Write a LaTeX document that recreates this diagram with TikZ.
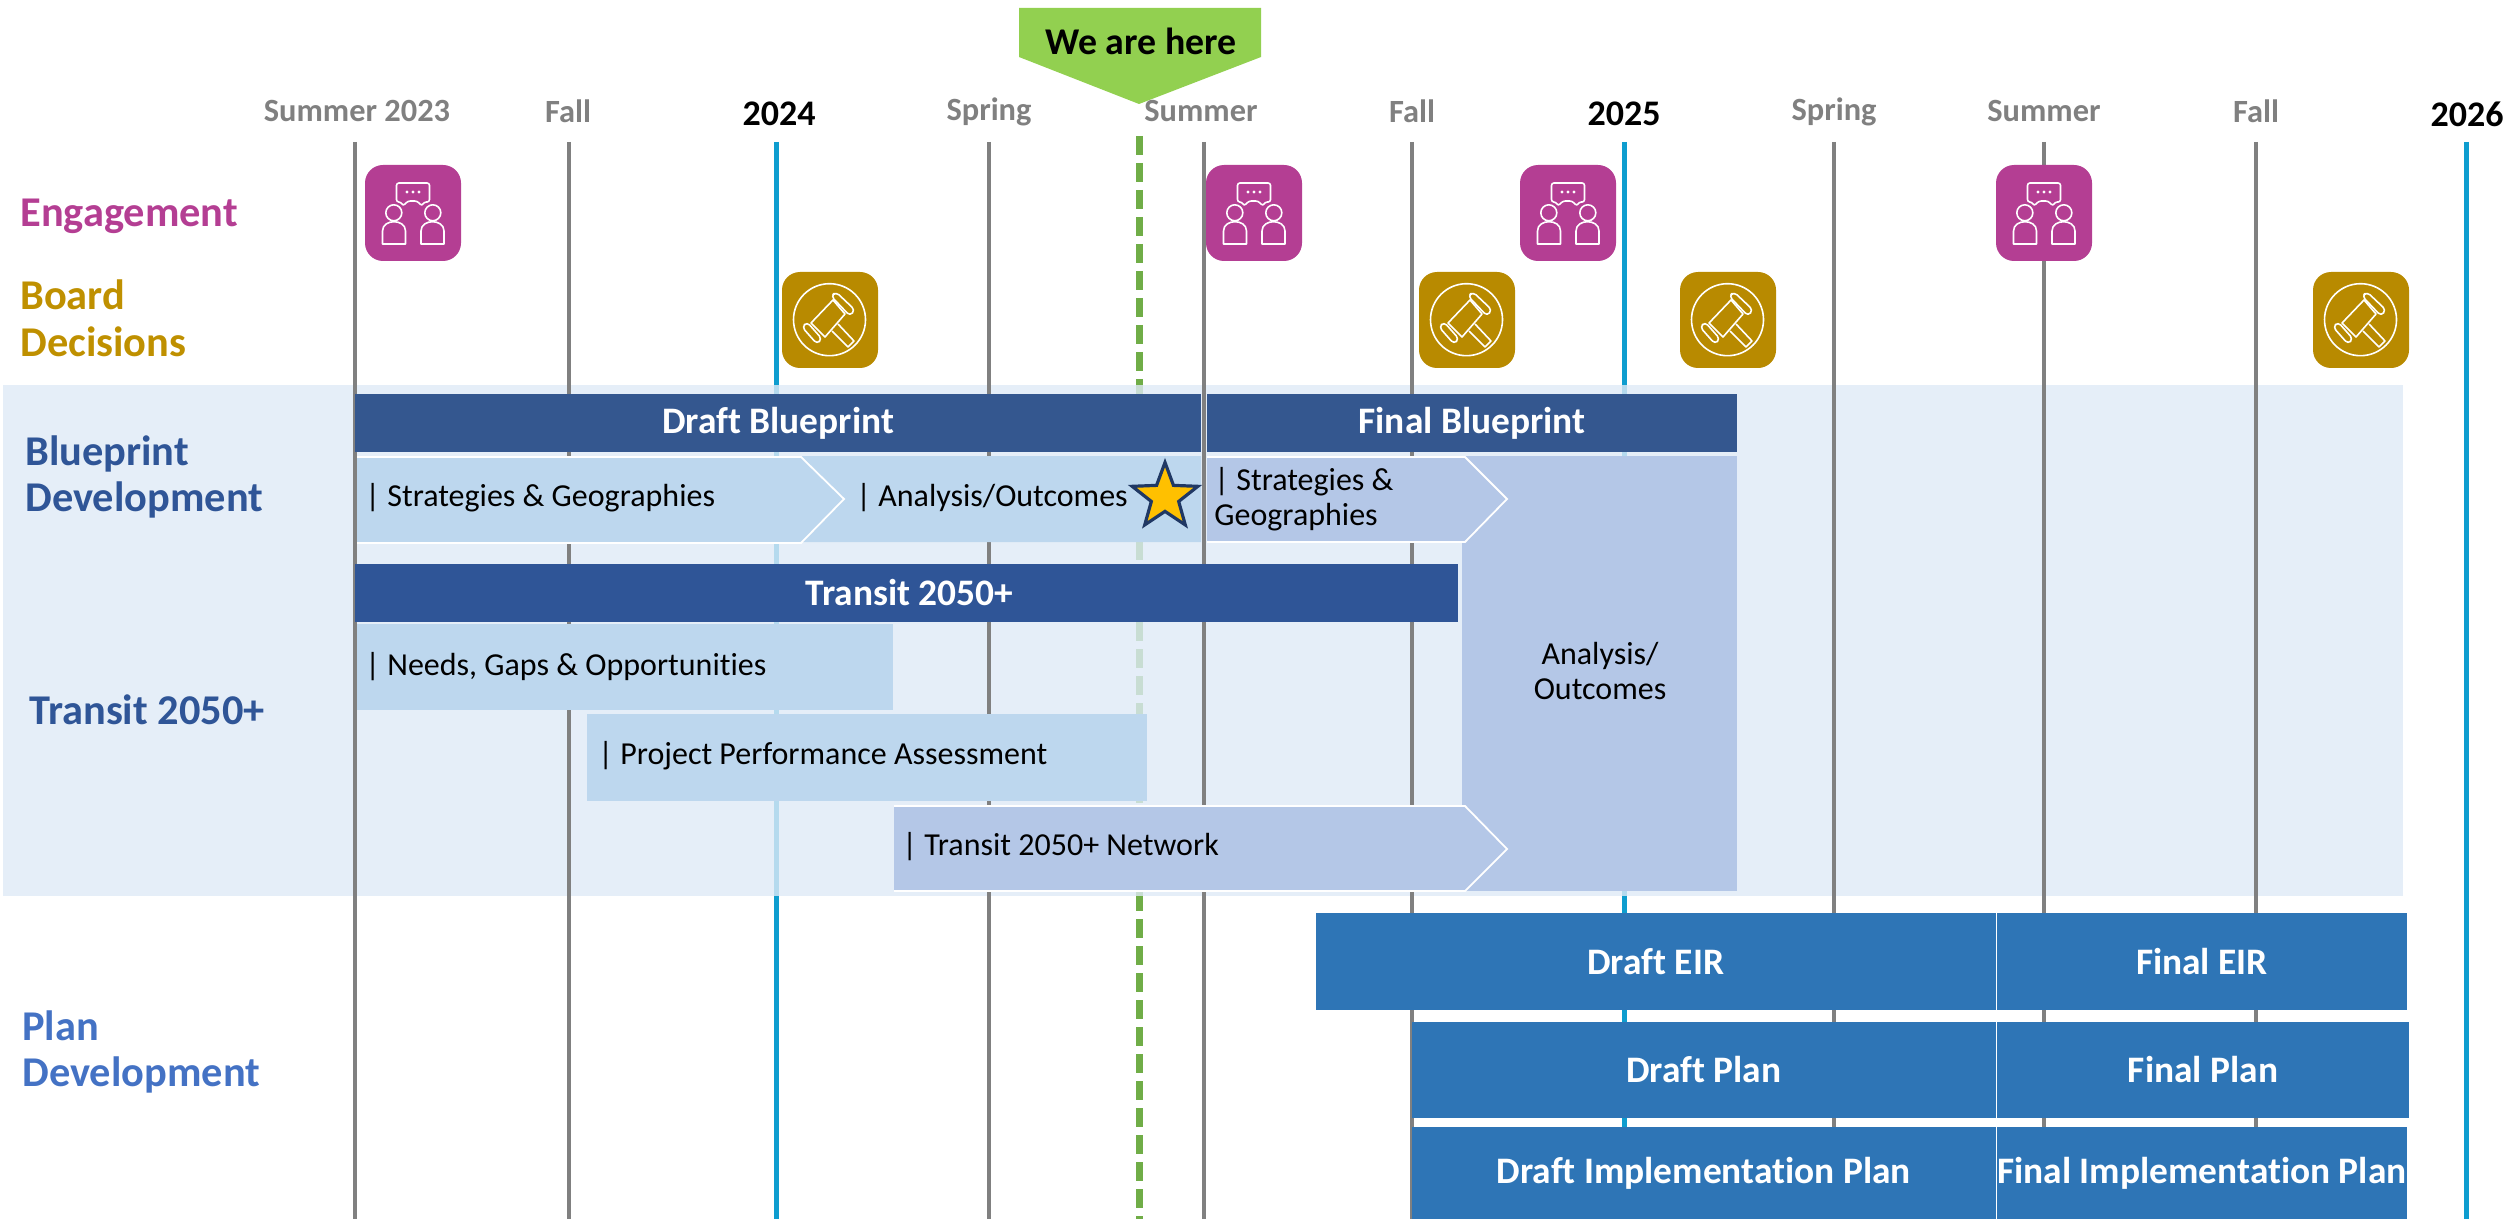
\documentclass[tikz,border=0pt]{standalone}
\usepackage{fontspec}
\setmainfont[Ligatures=CommonOff]{Carlito}
\usetikzlibrary{shapes.geometric}
\definecolor{gridgray}{HTML}{808080}
\definecolor{yearblue}{HTML}{0E9DCF}
\definecolor{heregreen}{HTML}{70AD47}
\definecolor{herefill}{HTML}{92D050}
\definecolor{bandfill}{HTML}{DFEAF6}
\definecolor{navy}{HTML}{34578F}
\definecolor{navyb}{HTML}{2F5597}
\definecolor{planblue}{HTML}{2E75B6}
\definecolor{lightbar}{HTML}{BDD7EE}
\definecolor{midbar}{HTML}{B4C7E7}
\definecolor{pinkicon}{HTML}{B43E93}
\definecolor{goldicon}{HTML}{B88A00}
\definecolor{boardtext}{HTML}{BF9000}
\definecolor{planlabel}{HTML}{4472C4}
\definecolor{starborder}{HTML}{203864}
\definecolor{starfill}{HTML}{FFC000}
\tikzset{
  x=0.5pt,y=-0.5pt,
  gridline/.style={draw=gridgray,line width=1.6pt},
  yearline/.style={draw=yearblue,line width=2.5pt},
  season/.style={text=gridgray,font=\fontsize{16.2}{19}\selectfont\bfseries,anchor=center},
  yearlabel/.style={text=black,font=\fontsize{18}{21}\selectfont\bfseries,anchor=center},
  side/.style={font=\fontsize{21.2}{23.3}\selectfont\bfseries,anchor=west,align=left,inner sep=0pt},
  barlabel/.style={text=white,font=\fontsize{18.7}{21}\selectfont\bfseries,align=center,inner sep=0pt},
  bodylabel/.style={text=black,font=\fontsize{16}{17.6}\selectfont,align=left,inner sep=0pt},
  chev/.style={draw=white,line width=0.9pt,line join=miter},
  iconline/.style={draw=white,line width=0.8pt,line join=round},
  peopleicon/.pic={
    \fill[pinkicon,rounded corners=9pt] (0,0) rectangle (96,96);
    \draw[iconline,rounded corners=1.2pt] (31.5,18) -- (64.5,18) -- (64.5,37) -- (59,37) -- (57,41) -- (52,36) -- (43,36) -- (38,41) -- (36,37) -- (31.5,37) -- cycle;
    \fill[white] (42,27) circle (1.6) (48,27) circle (1.6) (54,27) circle (1.6);
    \draw[iconline] (28.8,47.8) circle (8) (67.8,47.8) circle (8);
    \draw[iconline,line join=round] (17.5,79) -- (17.5,66) .. controls (17.5,53.6) and (40.5,53.6) .. (40.5,66) -- (40.5,79) -- cycle;
    \draw[iconline,line join=round] (56,79) -- (56,66) .. controls (56,53.6) and (79,53.6) .. (79,66) -- (79,79) -- cycle;
  },
  gavelicon/.pic={
    \fill[goldicon,rounded corners=9pt] (0,0) rectangle (96,96);
    \draw[iconline] (47.5,47.7) circle (36);
    \draw[iconline] (29,51) -- (51,28) -- (63,42) -- (43,65) -- cycle;
    \draw[iconline,rounded corners=2pt] (49,24) -- (54,20) -- (73,38) -- (68,44) -- cycle;
    \draw[iconline,rounded corners=2pt] (20,55) -- (25,50) -- (40,67) -- (35,72) -- cycle;
    \draw[iconline] (50,59) -- (66,75) -- (72,69) -- (56,52);
  }
}
\begin{document}
\begin{tikzpicture}
\useasboundingbox (0,0) rectangle (2514,1219);
% year and now lines (seen faintly through the band)
\foreach \xx in {776,1624,2466} \draw[yearline] (\xx,142) -- (\xx,1219);
\draw[draw=heregreen,line width=3.5pt,dash pattern=on 9.5pt off 4pt] (1139,136) -- (1139,1219);
% band
\fill[bandfill,opacity=0.8] (3,385) rectangle (2403,896);
% grey lines
\foreach \xx in {355,569,989,1204,1412,1834,2044,2256} \draw[gridline] (\xx,142) -- (\xx,1219);
% header labels
\node[season] (s1) at (357,111) {Summer 2023};
\node[season] (s2) at (568,111) {Fall};
\node[yearlabel] (y1) at (779,114) {2024};
\node[season] (s3) at (989,112) {Spring};
\node[season] (s4) at (1201,111) {Summer};
\node[season] (s5) at (1412,111) {Fall};
\node[yearlabel] (y2) at (1624,114) {2025};
\node[season] (s6) at (1834,112) {Spring};
\node[season] (s7) at (2044,111) {Summer};
\node[season] (s8) at (2256,111) {Fall};
\node[yearlabel] (y3) at (2467,114) {2026};
% we are here
\fill[herefill] (1019,8) -- (1261,8) -- (1261,57) -- (1139,104) -- (1019,57) -- cycle;
\node[font=\fontsize{18.9}{21}\selectfont\bfseries,text=black] (here) at (1141,41) {We are here};
% side labels
\node[side,text=pinkicon] (l1) at (20,216) {Engagement};
\node[side,text=boardtext] (l2) at (20,318) {Board\\Decisions};
\node[side,text=navyb] (l3) at (25,477) {Blueprint\\Development};
\node[side,text=navyb] (l4) at (29,710) {Transit 2050+};
\node[side,text=planlabel] (l5) at (22,1052) {Plan\\Development};
% icons
\foreach \xx in {365,1206,1520,1996} \pic at (\xx,165) {peopleicon};
\foreach \xx in {782,1419,1680,2313} \pic at (\xx,272) {gavelicon};
% analysis block
\path[fill=midbar] (1462,456) rectangle (1737,891);
\node[bodylabel,align=center] (analysis) at (1600,671) {Analysis/\\Outcomes};
% blueprint bars
\path[fill=navy] (355,394) rectangle node[barlabel] (draftbp) {Draft Blueprint} (1201,452);
\path[fill=navy] (1207,394) rectangle node[barlabel] (finalbp) {Final Blueprint} (1737,452);
% chevrons
\fill[lightbar] (801,456) -- (1201,456) -- (1201,542) -- (801,542) -- (844,499) -- cycle;
\draw[chev,fill=lightbar] (357,457) -- (801,457) -- (844,499) -- (801,543) -- (357,543);
\node[bodylabel,anchor=west] (c1) at (365,498) {| Strategies \& Geographies};
\node[bodylabel,anchor=west] (c2) at (856,498) {| Analysis/Outcomes};
\node[star,star points=5,star point ratio=2.4,fill=starfill,draw=starborder,line width=1.6pt,inner sep=0pt,minimum size=34.5pt] (star) at (1165,497) {};
\draw[chev,fill=midbar] (1207,457) -- (1465,457) -- (1507,499) -- (1465,542) -- (1207,542);
\node[bodylabel,anchor=west] (c3) at (1214,499) {| Strategies \&\\Geographies};
% transit
\path[fill=navyb] (355,564) rectangle node[barlabel,xshift=1.5pt] (transit) {Transit 2050+} (1458,622);
\path[fill=lightbar] (357,624) rectangle (893,710);
\node[bodylabel,anchor=west] (n1) at (365,667) {| Needs, Gaps \& Opportunities};
\path[fill=lightbar] (587,714) rectangle (1147,801);
\node[bodylabel,anchor=west] (n2) at (598,756) {| Project Performance Assessment};
\draw[chev,fill=midbar] (894,806) -- (1465,806) -- (1507,849) -- (1465,891) -- (894,891);
\node[bodylabel,anchor=west] (n3) at (902,847) {| Transit 2050+ Network};
% plan bars
\path[fill=planblue] (1316,913) rectangle node[barlabel] (deir) {Draft EIR} (1995.5,1010);
\path[fill=planblue] (1996.8,913) rectangle node[barlabel] (feir) {Final EIR} (2407,1010);
\path[fill=planblue] (1412,1022) rectangle node[barlabel] (dplan) {Draft Plan} (1995.5,1118);
\path[fill=planblue] (1996.8,1022) rectangle node[barlabel] (fplan) {Final Plan} (2409,1118);
\path[fill=planblue] (1412,1127) rectangle node[barlabel] (dimp) {Draft Implementation Plan} (1995.5,1219);
\path[fill=planblue] (1996.8,1127) rectangle node[barlabel] (fimp) {Final Implementation Plan} (2407,1219);
\end{tikzpicture}
\end{document}
